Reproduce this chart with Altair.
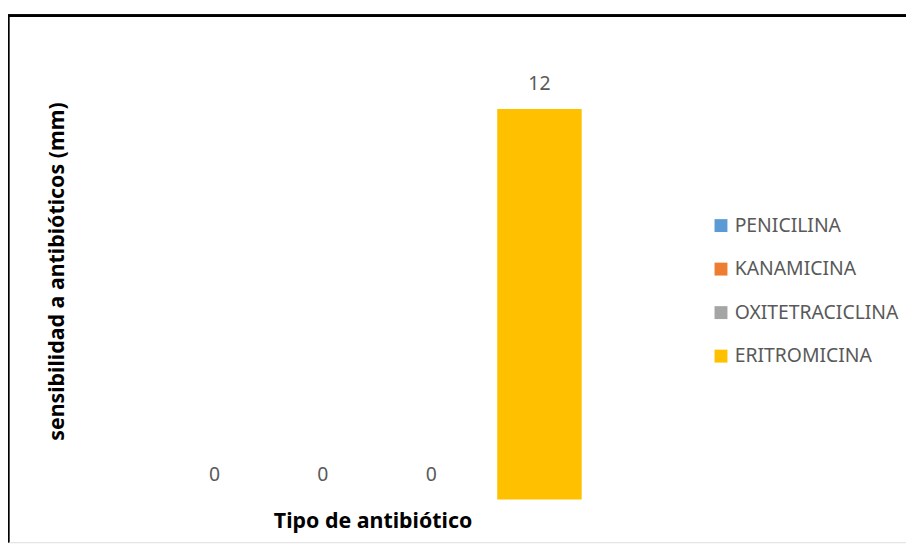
import altair as alt
import pandas as pd

antibioticos = ["PENICILINA", "KANAMICINA", "OXITETRACICLINA", "ERITROMICINA"]
valores = [0, 0, 0, 12]
colores = ["#5B9BD5", "#ED7D31", "#A5A5A5", "#FFC000"]

df = pd.DataFrame({"antibiotico": antibioticos, "valor": valores})

W, H = 904, 530
FONT = "Noto Sans"

xscale = alt.Scale(domain=antibioticos, range=[153.5, 589.5], paddingInner=0.22, paddingOuter=0.11)
yscale = alt.Scale(domain=[0, 12], range=[487, 94])

x = alt.X("antibiotico:N", scale=xscale, sort=antibioticos,
          axis=alt.Axis(title="Tipo de antibiótico", labels=False, ticks=False, domain=False,
                        grid=False, titleFontSize=21.5, titleFontWeight="bold", titleFont=FONT,
                        titleColor="#000000", titleX=367, titleY=-21, titleBaseline="middle",
                        titleAlign="center"))
y = alt.Y("valor:Q", scale=yscale,
          axis=alt.Axis(title="sensibilidad a antibióticos (mm)", labels=False, ticks=False,
                        domain=False, grid=False, titleFontSize=21.5, titleFontWeight="bold",
                        titleFont=FONT, titleColor="#000000", titleX=50, titleY=257,
                        titleBaseline="middle", titleAlign="center", titleAngle=-90))

bars = alt.Chart(df).mark_bar().encode(
    x=x, y=y,
    color=alt.Color("antibiotico:N", scale=alt.Scale(domain=antibioticos, range=colores),
                    sort=antibioticos,
                    legend=alt.Legend(title=None, orient="none", legendX=708, legendY=201.5,
                                      symbolType="square", symbolSize=169, symbolStrokeWidth=0,
                                      labelFontSize=19.5, labelFont=FONT, labelColor="#595959",
                                      rowPadding=22.8, labelOffset=4, labelLimit=300)),
)

labels = alt.Chart(df).mark_text(baseline="middle", dy=-25, fontSize=19.5, font=FONT,
                                 color="#595959").encode(
    x=alt.X("antibiotico:N", scale=xscale, sort=antibioticos),
    y=alt.Y("valor:Q", scale=yscale),
    text="valor:Q",
)

top_border = alt.Chart(df).mark_rule(color="black", strokeWidth=2.5).encode(
    x=alt.value(0), x2=alt.value(W), y=alt.value(0))
left_border = alt.Chart(df).mark_rule(color="black", strokeWidth=2.5).encode(
    x=alt.value(0), y=alt.value(0), y2=alt.value(H))

chart = alt.layer(bars, labels, top_border, left_border).properties(
    width=W, height=H,
    autosize=alt.AutoSizeParams(type="none"),
    padding={"left": 0, "top": 6, "right": 0, "bottom": 0},
).configure_view(stroke=None).configure(background="white")

chart.save("out.html", embed_options={"renderer": "svg", "actions": False})
